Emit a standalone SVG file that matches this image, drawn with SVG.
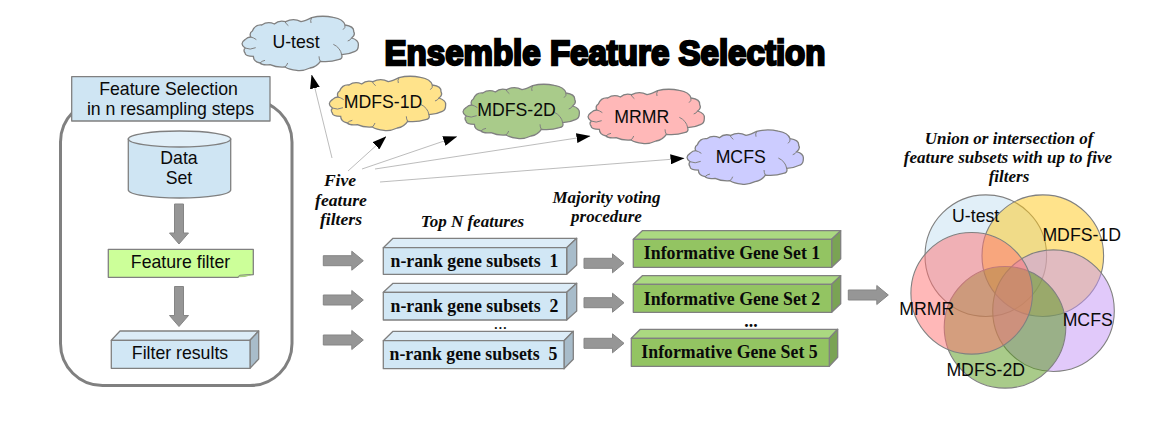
<svg xmlns="http://www.w3.org/2000/svg" xmlns:xlink="http://www.w3.org/1999/xlink" width="1162" height="425" viewBox="0 0 1162 425">
<style>
text{font-family:"Liberation Sans",Arial,sans-serif;font-size:17.7px;fill:#0a0a0a;text-anchor:middle}
.s{font-family:"Liberation Serif","Times New Roman",serif;font-weight:bold;font-size:17.8px}
.i{font-family:"Liberation Serif","Times New Roman",serif;font-weight:bold;font-style:italic;font-size:17px}
.c{stroke:#808080;stroke-width:1.3;stroke-linejoin:round}
.cl{stroke:#808080;stroke-width:1.3;vector-effect:non-scaling-stroke}
.in{fill:none;stroke:#808080;stroke-width:1;vector-effect:non-scaling-stroke}
.ba{fill:#969696;stroke:#858585;stroke-width:1}
.l{fill:none;stroke:#b4b4b4;stroke-width:.9;marker-end:url(#ah)}
.v{stroke:#808080;stroke-width:1.1;fill-opacity:.5}
.bf{fill:#d1e7f5}.bt{fill:#dcecf7}.bs{fill:#a8bcca}
.gf{fill:#93c462}.gt{fill:#abd981}.gs{fill:#7aa354}
</style>
<defs>
<marker id="ah" viewBox="0 0 14 10" refX="13.5" refY="5" markerWidth="14" markerHeight="10" markerUnits="userSpaceOnUse" orient="auto"><path d="M0 0L14 5L0 10Z" fill="#000"/></marker>
<path id="cloudp" class="cl" d="M10 93Q-8 80 10 68Q18 60 27 60Q22 48 32 42Q40 22 60 24Q78 12 98 21Q112 8 132 14Q155 2 178 14Q190 12 210 2Q240 -6 275 1Q305 6 310 24Q338 28 336 44Q342 54 330 63Q352 70 350 84Q350 100 340 103Q322 112 300 113Q304 126 290 128Q265 136 236 133Q225 150 205 153Q180 164 165 160Q142 158 130 150Q105 152 85 143Q62 146 55 138Q35 134 35 118Q10 118 10 108Q4 100 10 93Z"/>
<path id="cloudin" class="in" d="M10 93Q25 100 42 92M27 60Q36 62 44 68M130 14Q132 20 140 26M210 2Q205 10 208 18M310 24Q312 32 304 38M330 63Q326 70 318 72M300 113Q296 92 275 82M236 133Q232 126 232 118M130 150Q136 144 138 138M55 138Q60 132 70 130"/>
<g id="ah-h"><path class="ba" d="M0 -5H28.5V-9.5L40 0L28.5 9.5V5H0Z"/></g>
<g id="ah-v"><path class="ba" d="M-4.5 0H4.5V29H9.5L0 40L-9.5 29H-4.5Z"/></g>
</defs>

<g id="title"><text x="605" y="65" style="font-size:34.5px;font-weight:bold;stroke:#000;stroke-width:2.4;fill:#000" textLength="441" lengthAdjust="spacingAndGlyphs">Ensemble Feature Selection</text></g>

<g id="selection-frame"><rect x="60.5" y="100" width="231.500" height="285.500" rx="42" ry="42" fill="#fff" stroke="#808080" stroke-width="3"/></g>
<g id="selection-label"><rect class="c" x="71.700" y="76.700" width="198.300" height="44.300" fill="#cfe5f3"/>
<text x="168.500" y="95">Feature Selection</text><text x="170.500" y="115">in n resampling steps</text></g>

<g id="data-set"><path class="c" d="M128.300 139V190C128.300 194.500 151 198 179.500 198S230.700 194.500 230.700 190V139Z" fill="#cfe5f3"/><ellipse class="c" cx="179.500" cy="139" rx="51.200" ry="8" fill="#e1eff8"/>
<text x="179" y="164">Data</text><text x="179" y="184">Set</text></g>

<g id="feature-filter"><path class="c" d="M108.300 249.300H253.300V274.500L240 275.500L238 277.300H108.300Z" fill="#ccff99"/><path d="M238 277.300L240 275.500L253.300 274.500L245 277Z" fill="#a8d080"/><text x="180.500" y="268">Feature filter</text></g>

<g id="filter-results"><path class="c bt" d="M111.300 340.300L120 331H258.700L250 340.300Z"/><path class="c bs" d="M250 340.300L258.700 331V359L250 368.300Z"/><rect class="c bf" x="111.300" y="340.300" width="138.700" height="28"/><text x="180" y="359">Filter results</text></g>

<g id="connectors">
<use xlink:href="#ah-v" href="#ah-v" x="179" y="204"/>
<use xlink:href="#ah-v" href="#ah-v" x="179" y="286.500"/>
<path class="l" d="M332 158L311.700 75"/>
<path class="l" d="M348 171L386 136.700"/>
<path class="l" d="M362 169L456.700 136.700"/>
<path class="l" d="M375 169L590 136"/>
<path class="l" d="M380 182L684 158.300"/>
<use xlink:href="#ah-h" href="#ah-h" x="323.300" y="260.700"/>
<use xlink:href="#ah-h" href="#ah-h" x="323.300" y="300"/>
<use xlink:href="#ah-h" href="#ah-h" x="323.300" y="340"/>
<use xlink:href="#ah-h" href="#ah-h" x="584" y="263.300"/>
<use xlink:href="#ah-h" href="#ah-h" x="584" y="302.700"/>
<use xlink:href="#ah-h" href="#ah-h" x="584" y="343.300"/>
<use xlink:href="#ah-h" href="#ah-h" x="848.300" y="295"/>
</g>

<g id="cloud-u-test"><use xlink:href="#cloudp" href="#cloudp" fill="#cfe5f3" transform="translate(241.700 17) scale(.3333)"/><use xlink:href="#cloudin" href="#cloudin" transform="translate(241.700 17) scale(.3333)"/><text x="296" y="48">U-test</text></g>
<g id="cloud-mdfs-1d"><use xlink:href="#cloudp" href="#cloudp" fill="#ffe38b" transform="translate(329 77) scale(.3333)"/><use xlink:href="#cloudin" href="#cloudin" transform="translate(329 77) scale(.3333)"/><text x="383" y="108">MDFS-1D</text></g>
<g id="cloud-mdfs-2d"><use xlink:href="#cloudp" href="#cloudp" fill="#a9cb8a" transform="translate(462.700 85) scale(.3333)"/><use xlink:href="#cloudin" href="#cloudin" transform="translate(462.700 85) scale(.3333)"/><text x="516.500" y="116">MDFS-2D</text></g>
<g id="cloud-mrmr"><use xlink:href="#cloudp" href="#cloudp" fill="#ffb8b8" transform="translate(587.700 90) scale(.3333)"/><use xlink:href="#cloudin" href="#cloudin" transform="translate(587.700 90) scale(.3333)"/><text x="641.700" y="122.500">MRMR</text></g>
<g id="cloud-mcfs"><use xlink:href="#cloudp" href="#cloudp" fill="#ccccff" transform="translate(686.700 130.700) scale(.3333)"/><use xlink:href="#cloudin" href="#cloudin" transform="translate(686.700 130.700) scale(.3333)"/><text x="740.700" y="162.500">MCFS</text></g>

<g id="label-five"><text class="i" x="340" y="186" style="font-size:17.6px">Five</text><text class="i" x="341" y="205.500" style="font-size:17.6px">feature</text><text class="i" x="341" y="225" style="font-size:17.6px">filters</text></g>
<g id="label-topn"><text class="i" x="472.500" y="227">Top N features</text></g>
<g id="label-majority"><text class="i" x="606.500" y="203">Majority voting</text><text class="i" x="606.500" y="222">procedure</text></g>
<g id="label-union"><text class="i" x="1009" y="143.500">Union or intersection of</text><text class="i" x="1008" y="162.500">feature subsets with up to five</text><text class="i" x="1009" y="182">filters</text></g>

<g id="subset-1"><path class="c bt" d="M383.300 247.700L393 238.300H576.700L566.700 247.700Z"/><path class="c bs" d="M566.700 247.700L576.700 238.300V265L566.700 274.300Z"/><rect class="c bf" x="383.300" y="247.700" width="183.400" height="26.600"/><text class="s" x="474.500" y="266.500" xml:space="preserve">n-rank gene subsets  1</text></g>
<g id="subset-2"><path class="c bt" d="M383.300 292.300L393 283.300H576.700L566.700 292.300Z"/><path class="c bs" d="M566.700 292.300L576.700 283.300V311L566.700 320Z"/><rect class="c bf" x="383.300" y="292.300" width="183.400" height="27.700"/><text class="s" x="474.500" y="311.500" xml:space="preserve">n-rank gene subsets  2</text></g>
<text class="s" x="501" y="329" id="dots-subsets" style="font-size:13px;letter-spacing:1.3px">...</text>
<g id="subset-5"><path class="c bt" d="M383.300 340.700L393 331.300H573.300L564 340.700Z"/><path class="c bs" d="M564 340.700L573.300 331.300V359.300L564 368.700Z"/><rect class="c bf" x="383.300" y="340.700" width="180.700" height="28"/><text class="s" x="473.500" y="360" xml:space="preserve">n-rank gene subsets  5</text></g>

<g id="gene-set-1"><path class="c gt" d="M633.300 239.300L642.300 230.700H840.700L831.700 239.300Z"/><path class="c gs" d="M831.700 239.300L840.700 230.700V258.700L831.700 267.300Z"/><rect class="c gf" x="633.300" y="239.300" width="198.400" height="28"/><text class="s" x="732" y="259">Informative Gene Set 1</text></g>
<g id="gene-set-2"><path class="c gt" d="M633.300 284.300L642.300 275.700H840.700L831.700 284.300Z"/><path class="c gs" d="M831.700 284.300L840.700 275.700V303.700L831.700 312.300Z"/><rect class="c gf" x="633.300" y="284.300" width="198.400" height="28"/><text class="s" x="732" y="305">Informative Gene Set 2</text></g>
<text class="s" x="751" y="327" id="dots-genes">...</text>
<g id="gene-set-5"><path class="c gt" d="M631.300 338.300L640.300 329.300H837.700L829.300 338.300Z"/><path class="c gs" d="M829.300 338.300L837.700 329.300V357.300L829.300 366.300Z"/><rect class="c gf" x="631.300" y="338.300" width="198" height="28"/><text class="s" x="729.500" y="358">Informative Gene Set 5</text></g>

<g id="venn">
<circle class="v" cx="985.800" cy="255.700" r="60.800" fill="#c3dff1"/>
<circle class="v" cx="1042.800" cy="255.700" r="60.800" fill="#ffc717"/>
<circle class="v" cx="1053.500" cy="310.700" r="60.800" fill="#c393f5"/>
<circle class="v" cx="1005" cy="327.300" r="60.800" fill="#539715"/>
<circle class="v" cx="971.700" cy="293.300" r="60.800" fill="#ff7171"/>
<text x="975.700" y="221.700">U-test</text><text x="1081.700" y="240.500">MDFS-1D</text><text x="926.700" y="315">MRMR</text><text x="1087.700" y="325.500">MCFS</text><text x="985.700" y="376">MDFS-2D</text>
</g>
</svg>
